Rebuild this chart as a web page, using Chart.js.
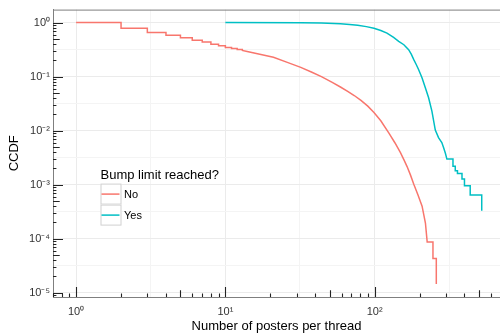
<!DOCTYPE html>
<html>
<head>
<meta charset="utf-8">
<script src="https://cdn.jsdelivr.net/npm/chart.js@4.4.1/dist/chart.umd.min.js"></script>
<style>
  html, body { margin: 0; padding: 0; background: #fff; }
  #wrap { width: 500px; height: 335px; }
</style>
</head>
<body>
<div id="wrap"><canvas id="ccdf" width="500" height="335"></canvas></div>
<script>
'use strict';

// Bump limit reached? -> No
// repeated x = the two sides of a visible CCDF step
const noPosters = [1, 2, 2, 3, 3, 4, 4, 5, 5, 6, 6, 7, 7, 8, 8, 9, 9, 10, 10, 11, 11, 12, 12, 13, 13, 14,
  17, 21, 26, 32, 38, 44, 52, 59, 66, 73, 81, 90, 99, 110, 125, 137, 149, 157, 165, 174, 183, 195, 208,
  219, 225, 246, 246, 259, 259];
const noCcdf = [1.0, 1.0, 0.785, 0.785, 0.655, 0.655, 0.583, 0.583, 0.523, 0.523, 0.472, 0.472, 0.434,
  0.434, 0.398, 0.398, 0.372, 0.372, 0.346, 0.346, 0.331, 0.331, 0.318, 0.318, 0.304, 0.292,
  0.26, 0.227, 0.183, 0.148, 0.12, 0.0995, 0.078, 0.0641, 0.0532, 0.0446, 0.0362, 0.0284, 0.0216, 0.0152,
  0.0089, 0.0059, 0.0039, 0.0029, 0.00216, 0.0015, 0.00102, 0.00065, 0.0004, 0.000195, 0.000087,
  0.000087, 0.000043, 0.000043, 0.0000145];

// Bump limit reached? -> Yes
const yesPosters = [10, 32, 44, 59, 68, 77, 88, 99, 110, 121, 134, 145, 157, 169, 176, 183, 190, 197,
  208, 219, 230, 242, 255, 268, 282, 290, 298, 305, 335, 335, 347, 347, 359, 359, 385, 385, 400, 400,
  437, 437, 522, 522];
const yesCcdf = [1.0, 0.995, 0.98, 0.946, 0.92, 0.89, 0.84, 0.785, 0.71, 0.636, 0.53, 0.45, 0.388,
  0.314, 0.26, 0.206, 0.167, 0.135, 0.094, 0.0616, 0.0405, 0.023, 0.0102, 0.0074, 0.006, 0.0048, 0.0038,
  0.00297, 0.00297, 0.0022, 0.0022, 0.0018, 0.0018, 0.0016, 0.0016, 0.00127, 0.00127, 0.00095,
  0.00095, 0.00064, 0.00064, 0.00033];

const seriesNames = ['No', 'Yes'];
const seriesColors = ['#F8766D', '#00BFC4'];

const xTickValues = [1, 10, 100];
const xTickLabels = ['10\u2070', '10\u00b9', '10\u00b2'];
const yTickValues = [1e-5, 1e-4, 1e-3, 1e-2, 1e-1, 1];
const yTickLabels = ['10\u207b\u2075', '10\u207b\u2074', '10\u207b\u00b3', '10\u207b\u00b2', '10\u207b\u00b9', '10\u2070'];

const FONT = '"Liberation Sans", Arial, Helvetica, sans-serif';

function toPoints(xs, ys) {
  return xs.map((x, i) => ({ x: x, y: ys[i] }));
}

function isDecade(v) {
  const l = Math.log10(v);
  return Math.abs(l - Math.round(l)) < 1e-6;
}

// decades plus half decades (ggplot style minor grid)
function gridTicks(scale) {
  const out = [];
  for (let e = -7; e <= 4; e += 0.5) {
    const v = Math.pow(10, e);
    if (v >= scale.min && v <= scale.max) out.push({ value: v });
  }
  scale.ticks = out;
}

function labelFor(values, labels) {
  return (value) => {
    const i = values.findIndex(v => Math.abs(v - value) / v < 1e-6);
    return i >= 0 ? labels[i] : '';
  };
}

const gridColor = (ctx) => isDecade(ctx.tick.value) ? '#ebebeb' : '#f4f4f4';

// panel top border + log ticks drawn inwards, like annotation_logticks
const logTicks = {
  id: 'logTicks',
  afterDatasetsDraw(chart) {
    const { ctx, chartArea: a, scales: { x, y } } = chart;
    ctx.save();
    ctx.strokeStyle = '#7f7f7f';
    ctx.lineWidth = 1;
    ctx.beginPath();
    ctx.moveTo(a.left, a.top + 0.5);
    ctx.lineTo(a.right, a.top + 0.5);
    ctx.stroke();

    ctx.strokeStyle = '#222';
    ctx.lineWidth = 1.1;
    ctx.beginPath();
    for (let e = -7; e <= 4; e++) {
      for (let k = 1; k <= 9; k++) {
        const v = k * Math.pow(10, e);
        const len = k === 1 ? 10 : (k === 5 ? 6.7 : 3.4);
        if (v >= x.min && v <= x.max) {
          const px = Math.round(x.getPixelForValue(v)) + 0.5;
          ctx.moveTo(px, a.bottom);
          ctx.lineTo(px, a.bottom - len);
        }
        if (v >= y.min && v <= y.max) {
          const py = Math.round(y.getPixelForValue(v)) + 0.5;
          ctx.moveTo(a.left, py);
          ctx.lineTo(a.left + len, py);
        }
      }
    }
    ctx.stroke();
    ctx.restore();
  }
};

// legend box inside the panel
const insideLegend = {
  id: 'insideLegend',
  afterDraw(chart) {
    const { ctx, chartArea: a } = chart;
    const left = a.left + 47.5;
    const top = a.top + 174;
    const key = 21;
    ctx.save();
    ctx.fillStyle = '#000';
    ctx.font = '13px ' + FONT;
    ctx.textAlign = 'left';
    ctx.textBaseline = 'alphabetic';
    ctx.fillText('Bump limit reached?', left, top - 5);

    seriesNames.forEach((name, i) => {
      const ky = top + i * key;
      ctx.fillStyle = '#ffffff';
      ctx.fillRect(left, ky, key, key);
      ctx.strokeStyle = '#d0d0d0';
      ctx.lineWidth = 1;
      ctx.strokeRect(left + 0.5, ky + 0.5, key - 1, key - 1);
      ctx.strokeStyle = seriesColors[i];
      ctx.lineWidth = 1.5;
      ctx.beginPath();
      ctx.moveTo(left + 1, ky + key / 2);
      ctx.lineTo(left + key - 2, ky + key / 2);
      ctx.stroke();
      ctx.fillStyle = '#000';
      ctx.font = '11px ' + FONT;
      ctx.textBaseline = 'middle';
      ctx.fillText(name, left + key + 2.5, ky + key / 2 + 0.5);
    });
    ctx.restore();
  }
};

new Chart(document.getElementById('ccdf').getContext('2d'), {
  type: 'line',
  data: {
    datasets: [
      {
        label: seriesNames[0],
        data: toPoints(noPosters, noCcdf),
        borderColor: seriesColors[0],
        borderWidth: 1.5,
        pointRadius: 0,
        tension: 0,
        fill: false
      },
      {
        label: seriesNames[1],
        data: toPoints(yesPosters, yesCcdf),
        borderColor: seriesColors[1],
        borderWidth: 1.5,
        pointRadius: 0,
        tension: 0,
        fill: false
      }
    ]
  },
  options: {
    responsive: false,
    animation: false,
    devicePixelRatio: 1,
    layout: { padding: { top: 8, right: 0, left: 0, bottom: 0 } },
    plugins: {
      legend: { display: false },
      tooltip: { enabled: false }
    },
    scales: {
      x: {
        type: 'logarithmic',
        min: 0.724,
        max: 692,
        afterBuildTicks: gridTicks,
        afterFit: (scale) => { scale.height = 38; },
        grid: { color: gridColor, lineWidth: 1, drawTicks: false },
        border: { display: true, color: '#7f7f7f', width: 1 },
        ticks: {
          autoSkip: false,
          maxRotation: 0,
          padding: 8,
          color: '#333',
          font: { family: FONT, size: 11 },
          callback: labelFor(xTickValues, xTickLabels)
        },
        title: {
          display: true,
          text: 'Number of posters per thread',
          color: '#000',
          font: { family: FONT, size: 13, lineHeight: 1 },
          padding: { top: 0, bottom: 2.5 }
        }
      },
      y: {
        type: 'logarithmic',
        min: 8.33e-6,
        max: 1.735,
        afterBuildTicks: gridTicks,
        afterFit: (scale) => { scale.width = 53; },
        grid: { color: gridColor, lineWidth: 1, drawTicks: false },
        border: { display: true, color: '#7f7f7f', width: 1 },
        ticks: {
          autoSkip: false,
          padding: 3,
          color: '#333',
          font: { family: FONT, size: 11 },
          callback: labelFor(yTickValues, yTickLabels)
        },
        title: {
          display: true,
          text: 'CCDF',
          color: '#000',
          font: { family: FONT, size: 13, lineHeight: 1 },
          padding: { top: 7.5, bottom: 0 }
        }
      }
    }
  },
  plugins: [logTicks, insideLegend]
});
</script>
</body>
</html>
